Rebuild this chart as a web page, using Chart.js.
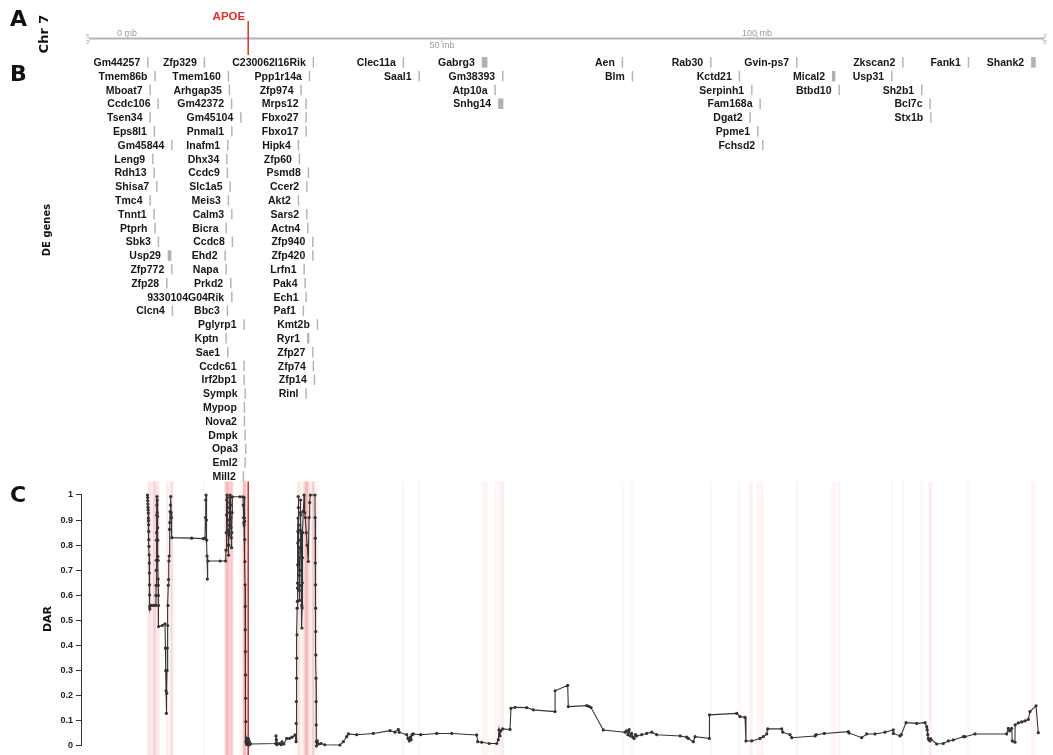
<!DOCTYPE html>
<html>
<head>
<meta charset="utf-8">
<script src="https://cdn.jsdelivr.net/npm/chart.js@4.4.1/dist/chart.umd.min.js"></script>
<style>
  html, body { margin: 0; padding: 0; background: #ffffff; }
  #c { position: absolute; left: 0; top: 0; }
</style>
</head>
<body>
<canvas id="c" width="1053" height="755"></canvas>
<script>
// ---- Chromosome 7 ruler ----
const chrLengthMb = 145.44;
const rulerTicksMb = [0, 50, 100];
const rulerTickLabels = ['0 mb', '50 mb', '100 mb'];
const apoeMb = 19.24;

// ---- Differentially expressed genes (Mb on chr7), in label order ----
const geneNames = [
  'Gm44257','Tmem86b','Mboat7','Ccdc106','Tsen34','Eps8l1','Gm45844','Leng9','Rdh13','Shisa7',
  'Tmc4','Tnnt1','Ptprh','Sbk3','Usp29','Zfp772','Zfp28',
  'Zfp329','Tmem160','Arhgap35','Gm42372','Gm45104','Pnmal1','Inafm1','Dhx34','Ccdc9','Slc1a5',
  'Meis3','Calm3','Bicra','Ccdc8','Ehd2','Napa','Prkd2','9330104G04Rik',
  'Clcn4',
  'Bbc3','Pglyrp1','Kptn','Sae1','Ccdc61','Irf2bp1','Sympk','Mypop','Nova2','Dmpk','Opa3','Eml2','Mill2',
  'C230062I16Rik','Ppp1r14a','Zfp974','Mrps12','Fbxo27','Fbxo17','Hipk4','Zfp60','Psmd8','Ccer2',
  'Akt2','Sars2','Actn4','Zfp940','Zfp420','Lrfn1','Pak4','Ech1','Paf1','Kmt2b','Ryr1','Zfp27',
  'Zfp74','Zfp14','Rinl',
  'Clec11a','Saal1','Gabrg3','Gm38393','Atp10a','Snhg14','Aen','Blm',
  'Rab30','Kctd21','Serpinh1','Fam168a','Dgat2','Ppme1','Fchsd2',
  'Gvin-ps7','Mical2','Btbd10','Zkscan2','Usp31','Sh2b1','Bcl7c','Stx1b','Fank1','Shank2'
];
const geneStartMb = [
  3.29,4.44,3.65,4.92,3.65,4.33,7.10,4.08,4.29,4.71,
  3.65,4.29,4.44,4.97,6.56,7.10,6.30,
  12.27,16.08,16.24,16.59,18.05,16.62,15.98,15.83,15.92,16.35,
  16.08,16.62,15.71,16.71,15.56,15.71,16.46,16.62,
  7.19,
  15.92,18.57,15.71,15.98,18.57,18.57,18.73,18.62,18.62,18.73,18.84,18.73,18.46,
  29.57,28.94,27.62,28.41,28.41,28.41,27.19,27.35,28.78,28.52,
  27.19,28.52,28.68,29.48,29.48,28.10,28.25,28.41,27.98,30.21,28.68,29.48,
  29.57,29.73,28.41,
  43.86,46.35,56.40,59.63,58.41,59.00,78.62,80.21,
  92.65,97.19,99.16,100.48,98.89,100.11,100.90,
  106.30,112.00,113.02,123.13,121.38,126.14,127.46,127.57,133.54,143.60
];
const geneEndMb = [
  3.31,4.46,3.67,4.94,3.67,4.35,7.12,4.10,4.31,4.73,
  3.67,4.31,4.46,4.99,6.94,7.12,6.32,
  12.29,16.10,16.26,16.61,18.07,16.64,16.00,15.85,15.94,16.37,
  16.10,16.64,15.73,16.73,15.58,15.73,16.48,16.64,
  7.21,
  15.94,18.59,15.73,16.00,18.59,18.59,18.75,18.64,18.64,18.75,18.86,18.75,18.48,
  29.59,28.96,27.64,28.43,28.43,28.43,27.21,27.37,28.80,28.54,
  27.21,28.54,28.70,29.50,29.50,28.12,28.27,28.43,28.00,30.23,28.83,29.50,
  29.59,29.75,28.43,
  43.88,46.37,57.10,59.65,58.43,59.63,78.64,80.23,
  92.67,97.21,99.18,100.50,98.91,100.13,100.92,
  106.32,112.33,113.04,123.15,121.40,126.16,127.48,127.59,133.56,144.13
];

// ---- DAR score along chr7 ----
const darPosMb = [
  3.25,3.27,3.29,3.31,3.33,3.35,3.37,3.39,3.41,3.43,
  3.45,3.47,3.49,3.51,3.53,3.55,3.57,3.59,3.61,3.63,
  3.7,3.95,4.3,4.55,4.6,4.62,4.64,4.66,4.68,4.7,
  4.72,4.74,4.76,4.8,4.82,4.84,4.86,4.88,4.9,4.92,
  4.94,4.96,4.98,5.0,5.02,5.6,6.03,6.1,6.15,6.2,
  6.25,6.3,6.35,6.4,6.45,6.5,6.55,6.6,6.65,6.7,
  6.75,6.8,6.85,6.9,6.95,7.0,7.05,7.12,10.27,12.1,
  12.38,12.45,12.5,12.55,12.6,12.65,12.7,12.75,12.85,14.8,
  15.65,15.72,15.76,15.8,15.84,15.88,15.92,15.96,16.0,16.04,
  16.08,16.12,16.16,16.2,16.24,16.28,16.32,16.36,16.4,16.44,
  16.48,16.52,16.56,16.6,16.64,16.68,16.72,17.94,18.41,18.45,
  18.5,18.55,18.58,18.6,18.64,18.67,18.7,18.72,18.74,18.76,
  18.78,18.8,18.82,18.84,18.86,18.88,18.93,18.98,19.03,19.08,
  19.13,19.18,19.23,19.28,19.33,19.38,19.43,19.5,19.6,23.6,
  23.65,23.7,23.75,23.8,24.2,24.45,24.6,24.9,25.35,25.8,
  26.2,26.67,26.83,26.86,26.89,26.92,26.95,26.98,27.01,27.03,
  27.05,27.07,27.09,27.11,27.13,27.15,27.17,27.2,27.23,27.26,
  27.29,27.32,27.35,27.38,27.41,27.44,27.47,27.5,27.53,27.56,
  27.59,27.62,27.65,27.68,27.71,27.74,27.77,27.8,27.83,27.86,
  27.89,27.98,28.1,28.2,28.3,28.45,28.6,28.78,28.9,29.0,
  29.1,29.84,29.86,29.88,29.9,29.92,29.94,29.96,29.98,30.0,
  30.02,30.04,30.06,30.08,30.2,30.4,30.8,31.4,33.81,34.33,
  34.87,35.13,36.46,39.1,41.75,42.54,43.06,43.2,44.4,44.6,
  44.8,44.95,45.1,45.25,45.44,46.62,49.16,51.54,55.51,55.67,
  56.3,57.5,58.68,58.94,59.05,59.2,59.32,59.63,60.79,60.95,
  61.59,63.44,64.49,67.94,67.95,69.95,70.05,72.97,73.3,73.65,
  75.6,79.05,79.3,79.5,79.7,79.9,80.1,80.3,80.5,80.7,
  80.9,81.7,82.49,83.29,84.08,87.8,88.84,89.1,89.89,90.16,
  92.43,92.45,96.78,97.3,98.1,98.25,99.16,100.48,101.0,101.54,
  101.7,103.92,104.1,105.24,105.51,109.21,109.4,110.68,114.49,114.6,
  116.62,117.41,118.73,120.32,121.63,121.65,122.7,122.9,123.65,125.35,
  126.67,126.94,127.0,127.1,127.19,127.3,127.46,127.6,128.52,129.57,
  130.37,131.16,132.75,133.0,134.6,139.63,139.89,140.1,140.43,140.52,
  140.95,140.97,141.48,142.02,142.54,143.06,143.33,144.29,144.65
];
const darValues = [
  1.0,0.99,0.977,0.964,0.951,0.941,0.928,0.908,0.897,0.881,
  0.855,0.822,0.795,0.762,0.729,0.689,0.642,0.602,0.556,0.546,
  0.56,0.56,0.56,0.56,0.6,0.64,0.7,0.74,0.82,0.85,
  0.92,0.96,0.994,0.98,0.93,0.915,0.87,0.82,0.755,0.74,
  0.665,0.64,0.6,0.56,0.476,0.48,0.487,0.39,0.3,0.22,
  0.13,0.21,0.3,0.39,0.48,0.56,0.64,0.663,0.737,0.757,
  0.863,0.89,0.934,0.96,0.994,0.93,0.91,0.83,0.828,0.826,
  0.828,0.91,0.98,1.0,0.9,0.82,0.757,0.665,0.737,0.737,
  0.737,0.78,0.85,0.92,0.98,1.0,0.99,0.95,0.9,0.86,
  0.8,0.76,0.8,0.84,0.88,0.93,0.97,1.0,0.99,0.96,
  0.91,0.87,0.83,0.79,0.85,0.93,0.993,0.993,0.993,0.96,
  0.91,0.89,0.88,0.99,0.908,0.895,0.822,0.735,0.642,0.556,
  0.463,0.376,0.283,0.19,0.097,0.017,0.03,0.01,0.025,0.005,
  0.02,0.01,0.03,0.015,0.005,0.02,0.01,0.012,0.008,0.01,
  0.04,0.025,0.012,0.005,0.01,0.005,0.016,0.008,0.03,0.03,
  0.035,0.044,0.017,0.09,0.177,0.27,0.35,0.443,0.549,0.576,
  0.629,0.649,0.722,0.809,0.855,0.908,0.994,0.95,0.88,0.82,
  0.75,0.68,0.62,0.58,0.64,0.7,0.79,0.86,0.93,0.98,
  0.92,0.85,0.77,0.7,0.64,0.56,0.47,0.55,0.65,0.75,
  0.85,0.935,1.0,0.93,0.91,0.85,0.8,0.735,0.91,0.97,
  1.0,1.0,0.91,0.828,0.729,0.642,0.549,0.456,0.363,0.27,
  0.177,0.084,0.017,0.0,0.02,0.008,0.01,0.005,0.004,0.017,
  0.037,0.048,0.045,0.05,0.061,0.055,0.066,0.055,0.045,0.03,
  0.02,0.035,0.025,0.045,0.048,0.045,0.05,0.05,0.044,0.017,
  0.015,0.01,0.01,0.025,0.064,0.04,0.06,0.068,0.066,0.15,
  0.154,0.153,0.144,0.137,0.22,0.242,0.157,0.161,0.158,0.153,
  0.064,0.055,0.06,0.045,0.065,0.04,0.05,0.035,0.03,0.045,
  0.04,0.045,0.05,0.055,0.045,0.04,0.035,0.03,0.017,0.037,
  0.03,0.124,0.13,0.117,0.114,0.02,0.02,0.03,0.037,0.048,
  0.068,0.068,0.055,0.045,0.033,0.04,0.045,0.05,0.057,0.052,
  0.033,0.048,0.048,0.055,0.064,0.05,0.04,0.045,0.093,0.09,
  0.093,0.077,0.065,0.045,0.03,0.025,0.02,0.028,0.008,0.01,
  0.02,0.024,0.037,0.037,0.048,0.048,0.07,0.06,0.07,0.02,
  0.015,0.084,0.092,0.096,0.1,0.106,0.137,0.16,0.053
];
const darTicks = [0, 0.1, 0.2, 0.3, 0.4, 0.5, 0.6, 0.7, 0.8, 0.9, 1];
const darTickLabels = ['0','0.1','0.2','0.3','0.4','0.5','0.6','0.7','0.8','0.9','1'];

// ---- drawing constants ----
const LABEL_FONT = 'bold 10.5px "Liberation Sans", Arial, sans-serif';
const TITLE_FONT = '"DejaVu Sans", sans-serif';
const LABEL_GAP = 7.5;     // space between a gene name and its bar
const ROW_MARGIN = 11.5;   // minimum clearance between labels sharing a row
const ROW_Y0 = 62.6;
const ROW_STEP = 13.8;

function layoutGeneRows(ctx, xs) {
  const rowRight = [];
  const rows = [];
  ctx.font = LABEL_FONT;
  geneNames.forEach((name, i) => {
    const w = ctx.measureText(name).width;
    const left = xs[i].x0 - LABEL_GAP - w;
    let r = 0;
    while (r < rowRight.length && left < rowRight[r] + ROW_MARGIN) r++;
    rowRight[r] = xs[i].x1;
    rows.push(r);
  });
  return rows;
}

function geneExtents(x) {
  return geneNames.map((_, i) => {
    const a = x.getPixelForValue(geneStartMb[i]);
    const b = x.getPixelForValue(geneEndMb[i]);
    return { x0: Math.min(a, b), x1: Math.max(a, b) };
  });
}

function rotatedText(ctx, text, cx, cy, font) {
  ctx.save();
  ctx.translate(cx, cy);
  ctx.rotate(-Math.PI / 2);
  ctx.font = font;
  ctx.textAlign = 'center';
  ctx.textBaseline = 'middle';
  ctx.fillText(text, 0, 0);
  ctx.restore();
}

// Pink gene bands and the APOE marker behind the DAR trace
const bandsPlugin = {
  id: 'geneBands',
  beforeDatasetsDraw(chart) {
    const { ctx, chartArea, scales } = chart;
    const x = scales.x;
    const xs = geneExtents(x);
    ctx.save();
    ctx.fillStyle = 'rgba(240, 60, 60, 0.05)';
    xs.forEach(g => {
      const w = Math.max(g.x1 - g.x0, 0) + 2.6;
      ctx.fillRect(g.x0 - 1.3, chartArea.top - 1, w, chartArea.bottom - chartArea.top + 3);
    });
    const ax = x.getPixelForValue(apoeMb);
    ctx.strokeStyle = 'rgba(205, 30, 30, 0.9)';
    ctx.lineWidth = 1.6;
    ctx.beginPath();
    ctx.moveTo(ax, chartArea.top - 1);
    ctx.lineTo(ax, chartArea.bottom + 2);
    ctx.stroke();
    ctx.restore();
  },
  afterDraw(chart) {
    const { ctx, chartArea, scales } = chart;
    const x = scales.x, y = scales.y;
    ctx.save();

    // y axis line from 0 to 1
    ctx.strokeStyle = '#333';
    ctx.lineWidth = 1;
    ctx.beginPath();
    ctx.moveTo(chartArea.left - 0.5, y.getPixelForValue(0));
    ctx.lineTo(chartArea.left - 0.5, y.getPixelForValue(1));
    ctx.stroke();

    // panel letters and side titles
    ctx.fillStyle = '#111';
    ctx.font = 'bold 22px ' + TITLE_FONT;
    ctx.textAlign = 'left';
    ctx.textBaseline = 'alphabetic';
    ctx.fillText('A', 10, 26);
    ctx.fillText('B', 10, 81);
    ctx.fillText('C', 10, 502);
    rotatedText(ctx, 'Chr 7', 45, 34, 'bold 13px ' + TITLE_FONT);
    rotatedText(ctx, 'DE genes', 47, 230, 'bold 10px ' + TITLE_FONT);
    rotatedText(ctx, 'DAR', 48, 619, 'bold 11px ' + TITLE_FONT);

    // chromosome ruler
    const chrX0 = chartArea.left + 7;
    const chrX1 = x.getPixelForValue(chrLengthMb) + 1;
    const chrY = 38.5;
    ctx.strokeStyle = '#b3b3b3';
    ctx.lineWidth = 1.8;
    ctx.beginPath();
    ctx.moveTo(chrX0, chrY);
    ctx.lineTo(chrX1, chrY);
    ctx.stroke();
    ctx.fillStyle = '#aaa';
    ctx.font = '6px "Liberation Sans", Arial, sans-serif';
    ctx.textAlign = 'center';
    ctx.fillText("5'", chrX0 - 1, chrY - 1);
    ctx.fillText("3'", chrX0 - 1, chrY + 5);
    ctx.fillText("3'", chrX1 + 1, chrY - 1);
    ctx.fillText("5'", chrX1 + 1, chrY + 5);
    ctx.font = '9px "Liberation Sans", Arial, sans-serif';
    ctx.fillStyle = '#9a9a9a';
    ctx.strokeStyle = '#9a9a9a';
    ctx.lineWidth = 0.8;
    rulerTicksMb.forEach((mb, i) => {
      const px = x.getPixelForValue(mb);
      const below = i % 2 === 1;
      ctx.beginPath();
      if (below) { ctx.moveTo(px, chrY + 1); ctx.lineTo(px, chrY + 3.5); }
      else { ctx.moveTo(px, chrY - 1); ctx.lineTo(px, chrY - 3.5); }
      ctx.stroke();
      ctx.fillText(rulerTickLabels[i], px, below ? chrY + 9 : chrY - 2.5);
    });

    // APOE marker
    const ax = x.getPixelForValue(apoeMb);
    ctx.strokeStyle = '#e0302a';
    ctx.lineWidth = 1.5;
    ctx.beginPath();
    ctx.moveTo(ax, 21);
    ctx.lineTo(ax, 55);
    ctx.stroke();
    ctx.fillStyle = '#e0302a';
    ctx.font = 'bold 11.5px "Liberation Sans", Arial, sans-serif';
    ctx.textAlign = 'right';
    ctx.fillText('APOE', ax - 3, 19.5);

    // DE gene labels with position bars
    const xs = geneExtents(x);
    const rows = layoutGeneRows(ctx, xs);
    ctx.font = LABEL_FONT;
    ctx.textAlign = 'right';
    ctx.textBaseline = 'middle';
    geneNames.forEach((name, i) => {
      const cy = ROW_Y0 + rows[i] * ROW_STEP;
      ctx.fillStyle = '#b2b2b2';
      ctx.fillRect(xs[i].x0 - 0.6, cy - 5.5, Math.max(xs[i].x1 - xs[i].x0, 0) + 1.3, 10.5);
      ctx.fillStyle = '#161616';
      ctx.fillText(name, xs[i].x0 - LABEL_GAP, cy + 0.5);
    });
    ctx.restore();
  }
};

const darPoints = darPosMb.map((p, i) => ({ x: p, y: darValues[i] }));

new Chart(document.getElementById('c'), {
  type: 'line',
  data: {
    datasets: [{
      data: darPoints,
      borderColor: '#333',
      backgroundColor: '#333',
      borderWidth: 1.1,
      pointRadius: 1.6,
      pointBorderWidth: 0,
      pointBackgroundColor: '#333',
      tension: 0,
      clip: false
    }]
  },
  options: {
    responsive: false,
    devicePixelRatio: 1,
    animation: false,
    events: [],
    layout: { autoPadding: false, padding: { top: 482.45, bottom: 1.48, left: 0, right: 8 } },
    plugins: { legend: { display: false }, tooltip: { enabled: false } },
    scales: {
      x: {
        type: 'linear',
        display: false,
        min: -7.143,
        max: 145.714
      },
      y: {
        type: 'linear',
        min: -0.03,
        max: 1.05,
        afterFit(scale) {
          scale.width = 82;
          scale.paddingTop = 0;
          scale.paddingBottom = 0;
        },
        afterBuildTicks(scale) { scale.ticks = darTicks.map(v => ({ value: v })); },
        border: { display: false },
        grid: { display: true, drawOnChartArea: false, drawTicks: true, tickLength: 6, color: '#333', lineWidth: 1 },
        ticks: {
          color: '#222',
          padding: 3,
          font: { family: '"Liberation Sans", Arial, sans-serif', size: 9, weight: 'bold' },
          callback: (v, i) => darTickLabels[i]
        }
      }
    }
  },
  plugins: [bandsPlugin]
});
</script>
</body>
</html>
